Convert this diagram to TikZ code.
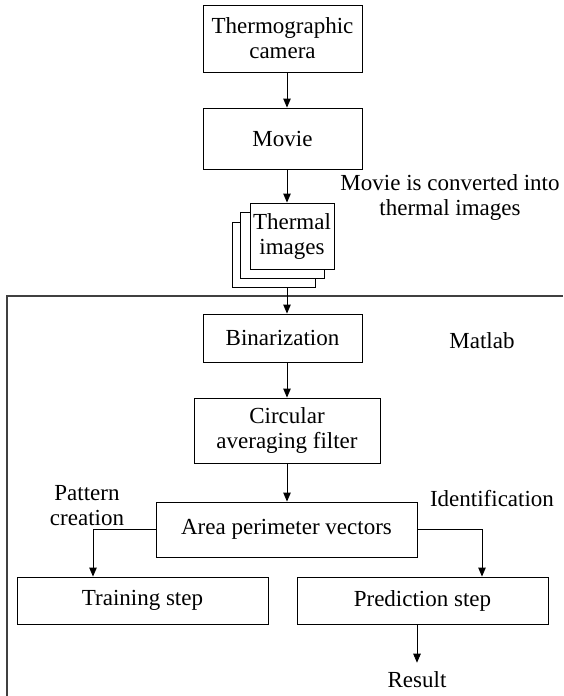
\documentclass[tikz,border=0pt]{standalone}
\usepackage{fontspec}
\setmainfont{Liberation Serif}
\newfontfamily\tnr{Liberation Serif}
\usetikzlibrary{arrows.meta}
\begin{document}
\begin{tikzpicture}[x=1pt,y=-1pt,
  every node/.style={font=\tnr\fontsize{23}{25}\selectfont, align=center},
  box/.style={draw=black, line width=0.9pt, fill=white, rectangle, inner sep=0pt},
  lbl/.style={inner sep=1pt},
  arr/.style={draw=black, line width=0.9pt, -{Triangle[length=9pt,width=7.5pt]}},
  ln/.style={draw=black, line width=0.9pt}]
\useasboundingbox (0,0) rectangle (563,696);
% frame
\coordinate (fb) at (7,696);
\coordinate (ft) at (7,296);
\coordinate (fr) at (563,296);
\draw[line width=1.1pt, draw=black!75] (fb) -- (ft) -- (fr);
% helper x positions
\coordinate (ax) at (287,0);
\coordinate (lx) at (93,0);
\coordinate (rx) at (482,0);
% boxes
\node[box, minimum width=159pt, minimum height=67pt] (cam) at (282.5,38.5) {Thermographic\\camera};
\node[box, minimum width=159pt, minimum height=61pt] (movie) at (282.5,138.5) {Movie};
\node[box, minimum width=83pt, minimum height=65pt] (th3) at (273.5,254.5) {};
\node[box, minimum width=84pt, minimum height=66pt] (th2) at (282,245) {};
\node[box, minimum width=84pt, minimum height=66pt] (th1) at (292,236) {Thermal\\images};
\node[box, minimum width=159pt, minimum height=48pt] (bin) at (282.5,338) {Binarization};
\node[box, minimum width=186pt, minimum height=65pt] (circ) at (287,430.5) {Circular\\averaging filter};
\node[box, minimum width=261pt, minimum height=55pt] (area) at (286.5,529.5) {Area perimeter vectors};
\node[box, minimum width=251pt, minimum height=47pt] (train) at (142.5,600.5) {Training step};
\node[box, minimum width=251pt, minimum height=47pt] (pred) at (422.5,600.5) {Prediction step};
% labels
\node[lbl] (conv) at (450,198) {Movie is converted into\\thermal images};
\node[lbl] (matlab) at (482,341) {Matlab};
\node[lbl] (pattern) at (87,506) {Pattern\\creation};
\node[lbl] (ident) at (492,499) {Identification};
\node[lbl] (result) at (417,680) {Result};
% connectors
\draw[arr] (cam.south -| ax) -- (movie.north -| ax);
\draw[arr] (movie.south -| ax) -- (th1.north -| ax);
\draw[arr] (th3.south -| ax) -- (bin.north -| ax);
\draw[arr] (bin.south -| ax) -- (circ.north -| ax);
\draw[arr] (circ.south -| ax) -- (area.north -| ax);
\draw[arr] (area.west) -| (train.north -| lx);
\draw[arr] (area.east) -| (pred.north -| rx);
\draw[arr, shorten >=8pt] (pred.south -| result) -- (result.north);
\end{tikzpicture}
\end{document}
